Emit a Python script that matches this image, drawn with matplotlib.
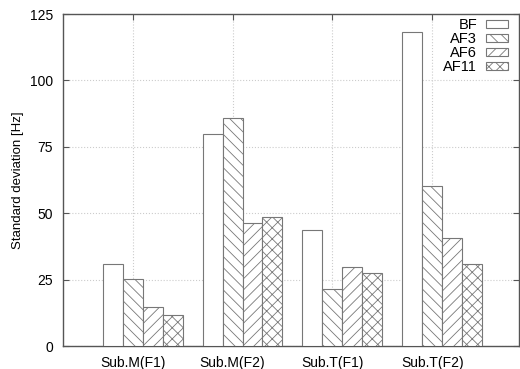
import numpy as np
import matplotlib.pyplot as plt

plt.rcParams['font.family'] = ['Liberation Sans', 'DejaVu Sans']
plt.rcParams['hatch.linewidth'] = 0.6
plt.rcParams['hatch.color'] = '#777777'

# data
groups = ['Sub.M(F1)', 'Sub.M(F2)', 'Sub.T(F1)', 'Sub.T(F2)']
series = ['BF', 'AF3', 'AF6', 'AF11']
bf = [30.8, 79.8, 43.8, 118.1]
af3 = [25.4, 85.8, 21.5, 60.4]
af6 = [14.8, 46.2, 29.8, 40.5]
af11 = [11.5, 48.7, 27.5, 30.8]
values = [bf, af3, af6, af11]
hatches = ['', '\\\\\\', '///', 'xxx']

fig = plt.figure(figsize=(5.2, 3.69), dpi=100)
ax = fig.add_axes([0.121, 0.0623, 0.877, 0.8997])

x = np.arange(len(groups))
w = 0.2
for k, (name, vals) in enumerate(zip(series, values)):
    ax.bar(x + (k - 1.5) * w, vals, w, facecolor='white', edgecolor='#777777',
           linewidth=0.8, hatch=hatches[k], label=name, zorder=3)

ax.set_xlim(-0.8, 3.77)
ax.set_ylim(0, 125)
ax.set_xticks(x - 0.1)
ax.set_xticklabels(groups)
ax.set_yticks([0, 25, 50, 75, 100, 125])
ax.set_ylabel('Standard deviation [Hz]', fontsize=9.5)

ax.grid(True, linestyle=':', color='#cccccc', linewidth=0.8, zorder=0)
ax.tick_params(direction='in', top=True, right=True, length=4, width=0.8,
               color='#555555', labelsize=10, pad=7)
for s in ax.spines.values():
    s.set_color('#555555')
    s.set_linewidth(1.0)

leg = ax.legend(loc='upper right', bbox_to_anchor=(0.985, 1.0), frameon=False,
                markerfirst=False, fontsize=10.5, handlelength=1.5,
                handleheight=0.5, labelspacing=0.0, borderaxespad=0.0,
                handletextpad=0.6, borderpad=0.3)
for t in leg.get_texts():
    t.set_ha('right')

fig.savefig('out.png', dpi=100)
